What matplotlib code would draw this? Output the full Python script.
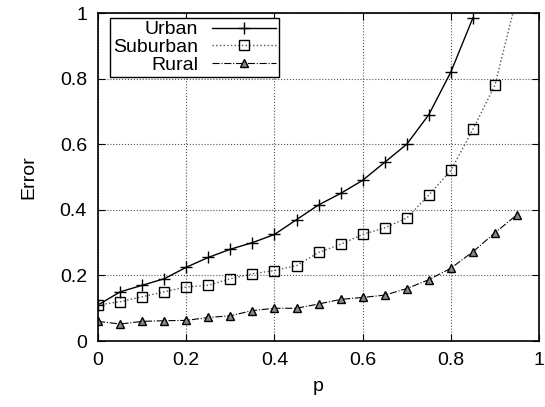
import matplotlib.pyplot as plt

plt.rcParams['font.family'] = ['Liberation Sans', 'DejaVu Sans']

p = [0.0, 0.05, 0.1, 0.15, 0.2, 0.25, 0.3, 0.35, 0.4, 0.45,
     0.5, 0.55, 0.6, 0.65, 0.7, 0.75, 0.8, 0.85, 0.9, 0.95]

urban = [0.11, 0.15, 0.17, 0.19, 0.225, 0.255, 0.28, 0.30, 0.325, 0.37,
         0.415, 0.45, 0.49, 0.545, 0.60, 0.69, 0.82, 0.985]
suburban = [0.11, 0.12, 0.135, 0.15, 0.165, 0.17, 0.19, 0.205, 0.215, 0.23,
            0.27, 0.295, 0.325, 0.345, 0.375, 0.445, 0.52, 0.645, 0.78, 1.05]
rural = [0.06, 0.052, 0.06, 0.062, 0.063, 0.072, 0.077, 0.093, 0.10, 0.10,
         0.113, 0.127, 0.133, 0.14, 0.16, 0.187, 0.222, 0.272, 0.33, 0.385]

fig = plt.figure(figsize=(5.45, 4.07), dpi=100)
ax = fig.add_axes([0.18, 0.162, 0.809, 0.806])

ax.plot(p[:len(urban)], urban, color='black', linestyle='-', linewidth=1.0,
        marker='+', markersize=8, markeredgewidth=1.0, label='Urban')
ax.plot(p[:len(suburban)], suburban, color='#555555', linestyle=':', linewidth=1.0,
        marker='s', markersize=6.5, markerfacecolor='none', markeredgecolor='black',
        markeredgewidth=1.0, label='Suburban')
ax.plot(p[:len(rural)], rural, color='black', linestyle='-.', linewidth=0.8,
        marker='^', markersize=6, markerfacecolor='#888888', markeredgecolor='black',
        markeredgewidth=1.0, label='Rural')

ax.set_xlim(0, 1)
ax.set_ylim(0, 1)
ax.set_xticks([0, 0.2, 0.4, 0.6, 0.8, 1])
ax.set_xticklabels(['0', '0.2', '0.4', '0.6', '0.8', '1'])
ax.set_yticks([0, 0.2, 0.4, 0.6, 0.8, 1])
ax.set_yticklabels(['0', '0.2', '0.4', '0.6', '0.8', '1'])
ax.tick_params(direction='in', top=True, right=True, labelsize=14, length=5, pad=8)
ax.grid(True, linestyle=':', color='#555555', linewidth=0.8)
for s in ax.spines.values():
    s.set_linewidth(1.2)

ax.set_xlabel('p', fontsize=14, labelpad=6)
ax.set_ylabel('Error', fontsize=14, labelpad=16)

leg = ax.legend(loc='upper left', bbox_to_anchor=(0.027, 0.985), markerfirst=False,
                fontsize=14, frameon=True, fancybox=False, edgecolor='black',
                framealpha=1, borderpad=0.15, labelspacing=0.0, handlelength=3.3,
                handletextpad=0.7, borderaxespad=0.0)
leg.get_frame().set_linewidth(1.0)

fig.savefig('out.png', dpi=100)
